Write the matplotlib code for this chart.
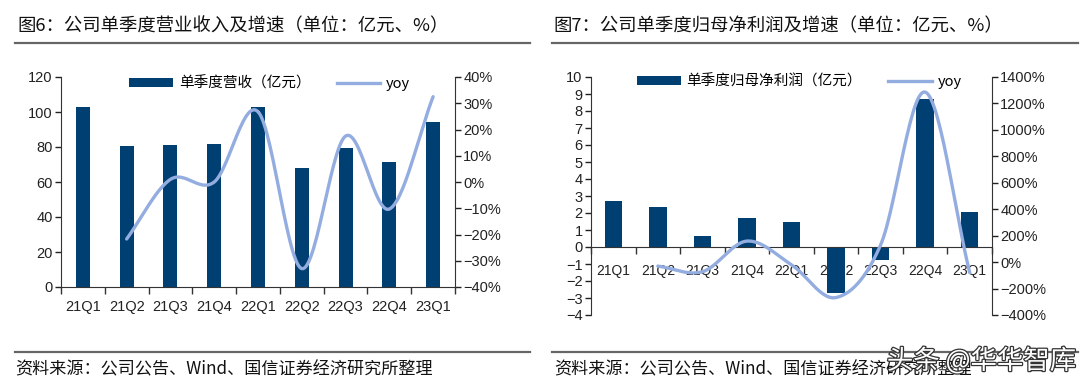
import numpy as np
import matplotlib.pyplot as plt
from matplotlib.lines import Line2D
from matplotlib.ticker import FuncFormatter, FixedLocator
import matplotlib.patheffects as pe

plt.rcParams['font.family'] = ['Liberation Sans', 'Noto Sans CJK SC', 'DejaVu Sans']
plt.rcParams['axes.unicode_minus'] = True

quarters = ['21Q1', '21Q2', '21Q3', '21Q4', '22Q1', '22Q2', '22Q3', '22Q4', '23Q1']

# fig 6: revenue (亿元) and yoy (%)
revenue = [103, 80.6, 81, 81.5, 103, 68.2, 79.6, 71.6, 94.5]
revenue_yoy = [None, -21.7, 1, 0, 26.8, -33, 17.5, -10.3, 32.5]

# fig 7: net profit (亿元) and yoy (%)
profit = [2.68, 2.35, 0.66, 1.7, 1.5, -2.7, -0.75, 8.7, 2.08]
profit_yoy = [None, -30, -73, 159, -20, -268, 130, 1286, -80]

bar_color = '#003f72'
line_color = '#94ade0'
cjk = ['Noto Sans CJK SC', 'DejaVu Sans']


# smooth line like excel's "smoothed line" (catmull-rom through the points)
def smooth(xs, ys, n=30):
    xs = np.asarray(xs, float); ys = np.asarray(ys, float)
    px = np.concatenate([[2 * xs[0] - xs[1]], xs, [2 * xs[-1] - xs[-2]]])
    py = np.concatenate([[2 * ys[0] - ys[1]], ys, [2 * ys[-1] - ys[-2]]])
    out_x, out_y = [], []
    t = np.linspace(0, 1, n)
    for i in range(1, len(px) - 2):
        for p, out in ((px, out_x), (py, out_y)):
            p0, p1, p2, p3 = p[i - 1], p[i], p[i + 1], p[i + 2]
            seg = 0.5 * ((2 * p1) + (-p0 + p2) * t + (2 * p0 - 5 * p1 + 4 * p2 - p3) * t ** 2
                         + (-p0 + 3 * p1 - 3 * p2 + p3) * t ** 3)
            out.extend(seg)
    return np.array(out_x), np.array(out_y)


def pct(v, pos):
    return f'{v:.0f}%'.replace('-', '\u2212')


def num(v, pos):
    return f'{v:.0f}'.replace('-', '\u2212')


fig = plt.figure(figsize=(10.8, 3.84), dpi=100)
W, H = 1080, 384


def box(x0, y0, x1, y1):
    return [x0 / W, 1 - y1 / H, (x1 - x0) / W, (y1 - y0) / H]


x = np.arange(len(quarters))


def style_axes(ax, axr, xpad):
    for a in (ax, axr):
        a.spines['top'].set_visible(False)
        a.tick_params(axis='y', direction='out', length=4, width=1, labelsize=10.5, colors='#222222', pad=2)
    ax.spines['right'].set_visible(False)
    axr.spines['left'].set_visible(False)
    axr.spines['bottom'].set_visible(False)
    for s in ('left', 'bottom'):
        ax.spines[s].set_color('#333333')
    axr.spines['right'].set_color('#333333')
    ax.set_xlim(-0.5, len(quarters) - 0.5)
    ax.set_xticks(x)
    ax.set_xticklabels(quarters, fontsize=10.5)
    ax.xaxis.set_minor_locator(FixedLocator(np.arange(-0.5, len(quarters), 1)))
    ax.tick_params(axis='x', which='major', length=0, pad=xpad, colors='#222222')
    ax.tick_params(axis='x', which='minor', length=5, width=1, direction='out', color='#333333')
    ax.yaxis.set_major_formatter(FuncFormatter(num))
    axr.yaxis.set_major_formatter(FuncFormatter(pct))


# ---- left: revenue ----
ax1 = fig.add_axes(box(61, 77, 455, 287))
ax1r = ax1.twinx()
b1 = ax1.bar(x, revenue, width=0.32, color=bar_color, zorder=2)
yx = [i for i, v in enumerate(revenue_yoy) if v is not None]
yy = [v for v in revenue_yoy if v is not None]
sx, sy = smooth(yx, yy)
ax1r.plot(sx, sy, color=line_color, lw=2.4, solid_capstyle='round')
ax1.set_ylim(0, 120)
ax1.set_yticks(range(0, 121, 20))
ax1r.set_ylim(-40, 40)
ax1r.set_yticks(range(-40, 41, 10))
style_axes(ax1, ax1r, 9)
ax1.legend([b1, Line2D([], [], color=line_color, lw=2.4)], ['单季度营收（亿元）', 'yoy'],
           loc='upper center', bbox_to_anchor=(0.53, 1.065), ncol=2, frameon=False,
           prop={'family': cjk, 'size': 10.5}, handlelength=3.0, handleheight=0.6,
           columnspacing=1.8, handletextpad=0.4)

# ---- right: net profit ----
ax2 = fig.add_axes(box(591, 77, 992, 315))
ax2r = ax2.twinx()
b2 = ax2.bar(x, profit, width=0.39, color=bar_color, zorder=2)
yx = [i for i, v in enumerate(profit_yoy) if v is not None]
yy = [v for v in profit_yoy if v is not None]
sx, sy = smooth(yx, yy)
ax2r.plot(sx, sy, color=line_color, lw=2.4, solid_capstyle='round')
ax2.set_ylim(-4, 10)
ax2.set_yticks(range(-4, 11, 1))
ax2r.set_ylim(-400, 1400)
ax2r.set_yticks(range(-400, 1401, 200))
style_axes(ax2, ax2r, 12)
ax2.spines['bottom'].set_position(('data', 0))
ax2.legend([b2, Line2D([], [], color=line_color, lw=2.4)], ['单季度归母净利润（亿元）', 'yoy'],
           loc='upper center', bbox_to_anchor=(0.52, 1.065), ncol=2, frameon=False,
           prop={'family': cjk, 'size': 10.5}, handlelength=3.0, handleheight=0.6,
           columnspacing=1.8, handletextpad=0.4)

# ---- titles, rules and sources ----
fig.text(17 / W, 1 - 26 / H, '图6：公司单季度营业收入及增速（单位：亿元、%）', family=cjk,
         fontsize=13.2, va='center', color='#111111')
fig.text(553 / W, 1 - 26 / H, '图7：公司单季度归母净利润及增速（单位：亿元、%）', family=cjk,
         fontsize=13.2, va='center', color='#111111')
for x0, x1 in ((15, 530), (552, 1078)):
    fig.add_artist(Line2D([x0 / W, x1 / W], [1 - 43 / H] * 2, color='#666666', lw=1.6))
    fig.add_artist(Line2D([x0 / W, x1 / W], [1 - 352 / H] * 2, color='#666666', lw=1.6))
fig.text(15 / W, 1 - 369 / H, '资料来源：公司公告、Wind、国信证券经济研究所整理', family=cjk,
         fontsize=12.3, va='center', color='#111111')
fig.text(554 / W, 1 - 369 / H, '资料来源：公司公告、Wind、国信证券经济研究所整理', family=cjk,
         fontsize=12.3, va='center', color='#111111')
fig.text(1076 / W, 1 - 361 / H, '头条 @华华智库', family=cjk, fontsize=19, ha='right',
         va='center', color='white',
         path_effects=[pe.withStroke(linewidth=1.8, foreground='#333333')])

fig.savefig('out.png', dpi=100)
